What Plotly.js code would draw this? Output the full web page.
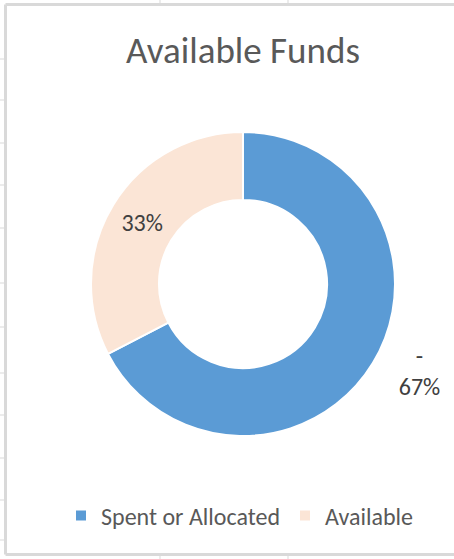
<!DOCTYPE html>
<html>
<head>
<meta charset="utf-8">
<script src="https://cdn.plot.ly/plotly-3.0.1.min.js"></script>
<style>
html,body{margin:0;padding:0;background:#fff;}
#chart{width:454px;height:559px;}
</style>
</head>
<body>
<div id="chart"></div>
<script>
var categories = ['Spent or Allocated', 'Available'];
var values = [67.4, 32.6];
var colors = ['#5B9BD5', '#FBE5D6'];
var labelPrefixes = ['-', ''];
var labelPositions = ['outside', 'inside'];

var W = 454, H = 559;
function px(x){ return x / W; }
function py(y){ return 1 - y / H; }

var FONT = 'Carlito, Calibri, Lato, sans-serif';
var PAD = '\u00a0\u00a0';

var labelTexts = values.map(function(v, i){
  var total = values.reduce(function(a, b){ return a + b; }, 0);
  var pct = Math.round(v / total * 100) + '%';
  return labelPositions[i] === 'outside'
    ? PAD + labelPrefixes[i] + '<br>' + PAD + pct
    : pct;
});

var trace = {
  type: 'pie',
  labels: categories,
  values: values,
  text: labelTexts,
  textinfo: 'text',
  sort: false,
  direction: 'clockwise',
  rotation: 0,
  hole: 0.553,
  marker: { colors: colors, line: { color: '#ffffff', width: 2 } },
  textposition: labelPositions,
  insidetextorientation: 'horizontal',
  textfont: { family: FONT, size: 24, color: '#404040' },
  outsidetextfont: { family: FONT, size: 24, color: '#404040' },
  insidetextfont: { family: FONT, size: 24, color: '#404040' },
  domain: { x: [px(243 - 152), px(243 + 152)], y: [py(284 + 152), py(284 - 152)] },
  hoverinfo: 'label+percent'
};

var gridColor = '#d9d9d9';
var shapes = [];
function line(x0, y0, x1, y1, w, c){
  shapes.push({type:'line', xref:'paper', yref:'paper', x0:px(x0), y0:py(y0), x1:px(x1), y1:py(y1),
    line:{color:c||gridColor, width:w||1}, layer:'below'});
}
// chart frame
line(5.5, 4.5, 454, 4.5, 3, '#d9d9d9');
line(5.5, 4.5, 5.5, 554.5, 3, '#d9d9d9');
line(5.5, 554.5, 454, 554.5, 3, '#d9d9d9');
// spreadsheet cell stubs
[160, 288].forEach(function(x){ line(x, 0, x, 3, 1); line(x, 556, x, 559, 1); });
[59, 100, 143, 185, 228, 283, 327, 373, 415, 458, 500, 540].forEach(function(y){ line(0, y, 4, y, 1); });

var layout = {
  width: W, height: H,
  margin: { l: 0, r: 0, t: 0, b: 0 },
  paper_bgcolor: '#ffffff',
  title: { text: 'Available Funds', font: { family: FONT, size: 37, color: '#595959' },
           x: px(243), xanchor: 'center', y: py(50), yanchor: 'middle' },
  showlegend: true,
  legend: { orientation: 'h', x: px(240), xanchor: 'center', y: py(516), yanchor: 'middle',
            font: { family: FONT, size: 24, color: '#595959' }, itemwidth: 30 },
  shapes: shapes
};

Plotly.newPlot('chart', [trace], layout, { displayModeBar: false, staticPlot: true });
</script>
</body>
</html>
